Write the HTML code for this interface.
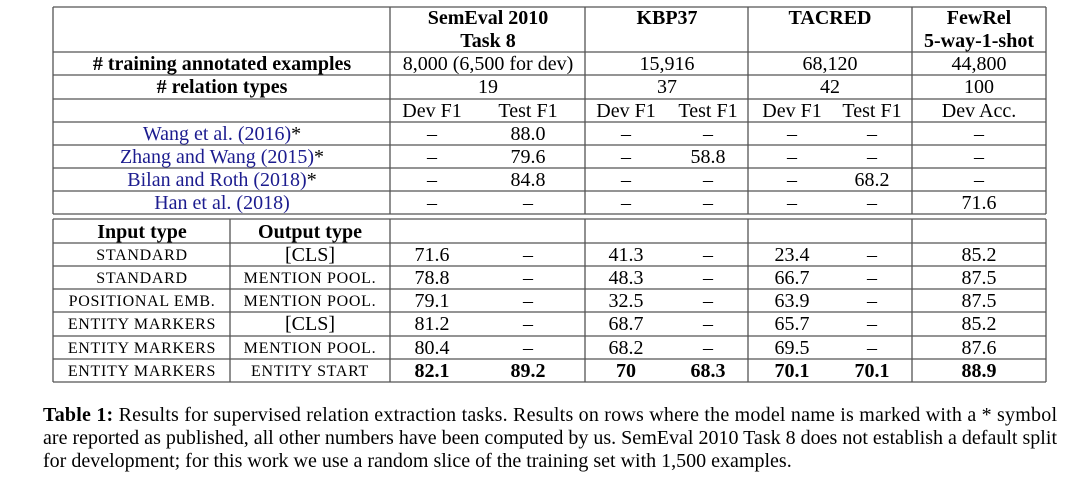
<!DOCTYPE html>
<html><head><meta charset="utf-8"><style>
html,body{margin:0;padding:0;background:#fff;width:1070px;height:479px;overflow:hidden}
svg{display:block;font-family:"Liberation Serif",serif}
.t{font-size:20px;fill:#000}
.b{font-weight:bold}
.a{fill:#1c1c8f}
.sc{font-size:16px;letter-spacing:0.7px}
line{stroke:#555;stroke-width:1.3}
</style></head><body>
<svg width="1070" height="479" text-anchor="middle">
<g>
<line x1="53" y1="7" x2="1046" y2="7"/><line x1="53" y1="52" x2="1046" y2="52"/><line x1="53" y1="75" x2="1046" y2="75"/><line x1="53" y1="99" x2="1046" y2="99"/><line x1="53" y1="122" x2="1046" y2="122"/><line x1="53" y1="145" x2="1046" y2="145"/><line x1="53" y1="168" x2="1046" y2="168"/><line x1="53" y1="191" x2="1046" y2="191"/><line x1="53" y1="214" x2="1046" y2="214"/>
<line x1="53" y1="7" x2="53" y2="214"/><line x1="390" y1="7" x2="390" y2="214"/><line x1="585" y1="7" x2="585" y2="214"/><line x1="748" y1="7" x2="748" y2="214"/><line x1="912" y1="7" x2="912" y2="214"/><line x1="1046" y1="7" x2="1046" y2="214"/>
<line x1="53" y1="219" x2="1046" y2="219"/><line x1="53" y1="243" x2="1046" y2="243"/><line x1="53" y1="266" x2="1046" y2="266"/><line x1="53" y1="289" x2="1046" y2="289"/><line x1="53" y1="312" x2="1046" y2="312"/><line x1="53" y1="336" x2="1046" y2="336"/><line x1="53" y1="359" x2="1046" y2="359"/><line x1="53" y1="382" x2="1046" y2="382"/>
<line x1="53" y1="219" x2="53" y2="382"/><line x1="230" y1="219" x2="230" y2="382"/><line x1="390" y1="219" x2="390" y2="382"/><line x1="585" y1="219" x2="585" y2="382"/><line x1="748" y1="219" x2="748" y2="382"/><line x1="912" y1="219" x2="912" y2="382"/><line x1="1046" y1="219" x2="1046" y2="382"/>
</g>
<g class="t b">
<text x="488" y="24">SemEval 2010</text>
<text x="488" y="47">Task 8</text>
<text x="667" y="24">KBP37</text>
<text x="830" y="24">TACRED</text>
<text x="979" y="24">FewRel</text>
<text x="979" y="47">5-way-1-shot</text>
</g>
<g class="t">
<text x="222" y="70" class="b"># training annotated examples</text>
<text x="488" y="70">8,000 (6,500 for dev)</text>
<text x="667" y="70">15,916</text>
<text x="830" y="70">68,120</text>
<text x="979" y="70">44,800</text>
<text x="222" y="93" class="b"># relation types</text>
<text x="488" y="93">19</text>
<text x="667" y="93">37</text>
<text x="830" y="93">42</text>
<text x="979" y="93">100</text>
<text x="432" y="117">Dev F1</text>
<text x="528" y="117">Test F1</text>
<text x="626" y="117">Dev F1</text>
<text x="708" y="117">Test F1</text>
<text x="792" y="117">Dev F1</text>
<text x="872" y="117">Test F1</text>
<text x="979" y="117">Dev Acc.</text>
</g>
<g class="t">
<text x="222" y="140" class="a">Wang et al. (2016)<tspan fill="#000">*</tspan></text>
<text x="432" y="140">–</text><text x="528" y="140">88.0</text><text x="626" y="140">–</text><text x="708" y="140">–</text><text x="792" y="140">–</text><text x="872" y="140">–</text><text x="979" y="140">–</text>
<text x="222" y="163" class="a">Zhang and Wang (2015)<tspan fill="#000">*</tspan></text>
<text x="432" y="163">–</text><text x="528" y="163">79.6</text><text x="626" y="163">–</text><text x="708" y="163">58.8</text><text x="792" y="163">–</text><text x="872" y="163">–</text><text x="979" y="163">–</text>
<text x="222" y="186" class="a">Bilan and Roth (2018)<tspan fill="#000">*</tspan></text>
<text x="432" y="186">–</text><text x="528" y="186">84.8</text><text x="626" y="186">–</text><text x="708" y="186">–</text><text x="792" y="186">–</text><text x="872" y="186">68.2</text><text x="979" y="186">–</text>
<text x="222" y="209" class="a">Han et al. (2018)</text>
<text x="432" y="209">–</text><text x="528" y="209">–</text><text x="626" y="209">–</text><text x="708" y="209">–</text><text x="792" y="209">–</text><text x="872" y="209">–</text><text x="979" y="209">71.6</text>
</g>
<g class="t">
<text x="142" y="238" class="b">Input type</text>
<text x="310" y="238" class="b">Output type</text>
<text x="142" y="260" class="sc">STANDARD</text><text x="310" y="261">[CLS]</text>
<text x="432" y="261">71.6</text><text x="528" y="261">–</text><text x="626" y="261">41.3</text><text x="708" y="261">–</text><text x="792" y="261">23.4</text><text x="872" y="261">–</text><text x="979" y="261">85.2</text>
<text x="142" y="283" class="sc">STANDARD</text><text x="310" y="283" class="sc">MENTION POOL.</text>
<text x="432" y="284">78.8</text><text x="528" y="284">–</text><text x="626" y="284">48.3</text><text x="708" y="284">–</text><text x="792" y="284">66.7</text><text x="872" y="284">–</text><text x="979" y="284">87.5</text>
<text x="142" y="306" class="sc">POSITIONAL EMB.</text><text x="310" y="306" class="sc">MENTION POOL.</text>
<text x="432" y="307">79.1</text><text x="528" y="307">–</text><text x="626" y="307">32.5</text><text x="708" y="307">–</text><text x="792" y="307">63.9</text><text x="872" y="307">–</text><text x="979" y="307">87.5</text>
<text x="142" y="329" class="sc">ENTITY MARKERS</text><text x="310" y="330">[CLS]</text>
<text x="432" y="330">81.2</text><text x="528" y="330">–</text><text x="626" y="330">68.7</text><text x="708" y="330">–</text><text x="792" y="330">65.7</text><text x="872" y="330">–</text><text x="979" y="330">85.2</text>
<text x="142" y="353" class="sc">ENTITY MARKERS</text><text x="310" y="353" class="sc">MENTION POOL.</text>
<text x="432" y="354">80.4</text><text x="528" y="354">–</text><text x="626" y="354">68.2</text><text x="708" y="354">–</text><text x="792" y="354">69.5</text><text x="872" y="354">–</text><text x="979" y="354">87.6</text>
<text x="142" y="376" class="sc">ENTITY MARKERS</text><text x="310" y="376" class="sc">ENTITY START</text>
<g class="b"><text x="432" y="377">82.1</text><text x="528" y="377">89.2</text><text x="626" y="377">70</text><text x="708" y="377">68.3</text><text x="792" y="377">70.1</text><text x="872" y="377">70.1</text><text x="979" y="377">88.9</text></g>
</g>
<g class="t" text-anchor="start">
<text x="43" y="421" textLength="1014" lengthAdjust="spacing"><tspan class="b">Table 1:</tspan> Results for supervised relation extraction tasks. Results on rows where the model name is marked with a * symbol</text>
<text x="43" y="444" textLength="1014" lengthAdjust="spacing">are reported as published, all other numbers have been computed by us. SemEval 2010 Task 8 does not establish a default split</text>
<text x="43" y="467">for development; for this work we use a random slice of the training set with 1,500 examples.</text>
</g>
</svg>
</body></html>
